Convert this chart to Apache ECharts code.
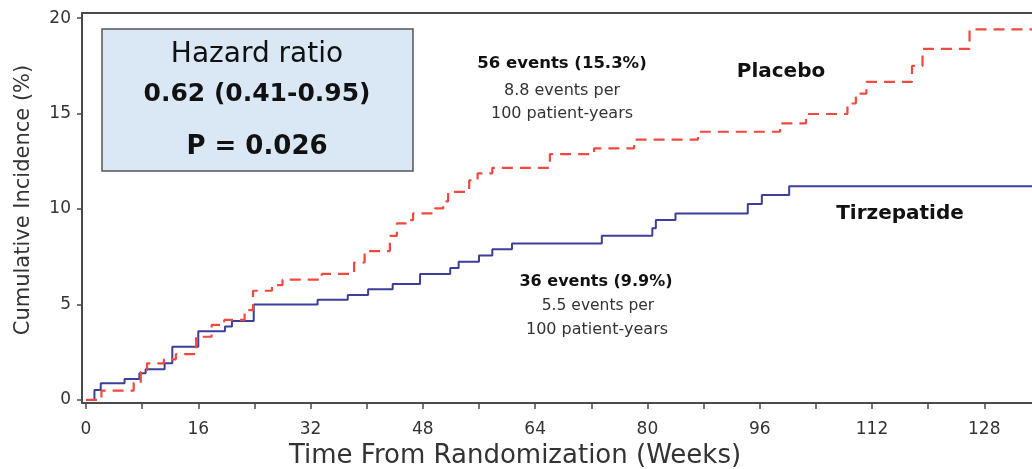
<!DOCTYPE html>
<html>
<head>
<meta charset="utf-8">
<script src="https://cdn.jsdelivr.net/npm/echarts/dist/echarts.min.js"></script>
<style>
html,body{margin:0;padding:0;background:#fff;}
#chart{width:1032px;height:469px;}
</style>
</head>
<body>
<div id="chart"></div>
<script>
// Tirzepatide (solid blue) Kaplan-Meier step points: week of change, cumulative incidence (%)
const weeksTirz = [0, 1.2, 2.1, 5.5, 7.6, 8.5, 11.2, 12.3, 16.0, 19.8, 20.8, 23.9, 33.0, 37.3, 40.2, 43.7, 47.6, 51.9, 53.1, 56.0, 57.9, 60.7, 73.5, 80.7, 81.2, 84.0, 94.3, 96.3, 100.2, 134.8];
const incTirz   = [0, 0.52, 0.87, 1.1, 1.4, 1.61, 1.92, 2.79, 3.6, 3.85, 4.14, 5.0, 5.25, 5.5, 5.8, 6.07, 6.6, 6.91, 7.24, 7.57, 7.89, 8.2, 8.6, 9.0, 9.42, 9.77, 10.26, 10.73, 11.2, 11.2];
// Placebo (dashed red)
const weeksPbo = [0, 2.2, 6.8, 7.8, 8.7, 11.1, 12.8, 15.7, 17.9, 19.7, 22.6, 23.8, 26.5, 28.0, 33.6, 38.2, 39.7, 43.3, 44.3, 45.9, 46.6, 49.7, 50.9, 51.6, 54.6, 55.8, 57.9, 66.1, 72.4, 78.1, 87.2, 98.9, 102.6, 108.5, 109.7, 111.2, 117.7, 119.2, 125.9, 134.8];
const incPbo   = [0, 0.49, 0.9, 1.48, 1.92, 2.13, 2.4, 3.31, 3.93, 4.19, 4.7, 5.72, 6.02, 6.3, 6.6, 7.2, 7.8, 8.6, 9.25, 9.42, 9.77, 10.04, 10.4, 10.9, 11.5, 11.87, 12.16, 12.88, 13.18, 13.64, 14.05, 14.49, 14.98, 15.53, 16.05, 16.66, 17.5, 18.39, 19.41, 19.41];

const xTickValues  = [0, 8, 16, 24, 32, 40, 48, 56, 64, 72, 80, 88, 96, 104, 112, 120, 128];
const xLabelValues = [0, 16, 32, 48, 64, 80, 96, 112, 128];
const yTickValues  = [0, 5, 10, 15, 20];

const FONT = 'DejaVu Sans';
const AXIS = '#4a4a4a';

const chart = echarts.init(document.getElementById('chart'), null, {renderer: 'canvas'});
const pairs = (xs, ys) => xs.map((x, i) => [x, ys[i]]);

chart.setOption({
  animation: false,
  backgroundColor: '#ffffff',
  grid: {left: 82, right: 0, top: 13, bottom: 66, containLabel: false, outerBoundsMode: 'none'},
  xAxis: [{
    type: 'value', min: -0.57, max: 134.8, position: 'bottom',
    axisLine: {show: true, onZero: false, lineStyle: {color: AXIS, width: 2}},
    axisTick: {show: true, length: 6, customValues: xTickValues, lineStyle: {color: AXIS, width: 1.5}},
    axisLabel: {customValues: xLabelValues, fontFamily: FONT, fontSize: 17, color: '#333', margin: 18},
    splitLine: {show: false},
    name: 'Time From Randomization (Weeks)', nameLocation: 'middle', nameGap: 39,
    nameTextStyle: {fontFamily: FONT, fontSize: 26, color: '#333', padding: [0, 84, 0, 0]}
  }, {
    type: 'value', min: -0.57, max: 134.8, position: 'top',
    axisLine: {show: true, onZero: false, lineStyle: {color: AXIS, width: 2}},
    axisTick: {show: false}, axisLabel: {show: false}, splitLine: {show: false}
  }],
  yAxis: {
    type: 'value', min: -0.16, max: 20.27,
    axisLine: {show: true, onZero: false, lineStyle: {color: AXIS, width: 2}},
    axisTick: {show: true, length: 5, customValues: yTickValues, lineStyle: {color: AXIS, width: 1.5}},
    axisLabel: {customValues: yTickValues, fontFamily: FONT, fontSize: 17, color: '#333', margin: 11},
    splitLine: {show: false},
    name: 'Cumulative Incidence (%)', nameLocation: 'middle', nameGap: 48,
    nameTextStyle: {fontFamily: FONT, fontSize: 21, color: '#333', padding: [0, 0, 0, 16]}
  },
  series: [{
    name: 'Tirzepatide', type: 'line', step: 'end', xAxisIndex: 0,
    data: pairs(weeksTirz, incTirz), symbol: 'none', showSymbol: false,
    lineStyle: {color: '#3b3f99', width: 2}
  }, {
    name: 'Placebo', type: 'line', step: 'end', xAxisIndex: 0,
    data: pairs(weeksPbo, incPbo), symbol: 'none', showSymbol: false,
    lineStyle: {color: '#f2483f', width: 2.2, type: [11, 7], cap: 'butt'}
  }],
  graphic: [
    {type: 'rect', shape: {x: 102, y: 29, width: 311, height: 142},
     style: {fill: '#dae8f6', stroke: '#555', lineWidth: 1.5}, z: 10},
    {type: 'text', x: 257, y: 55, z: 11, style: {text: 'Hazard ratio', font: 'normal 28px "DejaVu Sans"', fill: '#111', textAlign: 'center', textVerticalAlign: 'middle'}},
    {type: 'text', x: 257, y: 94, z: 11, style: {text: '0.62 (0.41-0.95)', font: 'bold 25px "DejaVu Sans"', fill: '#111', textAlign: 'center', textVerticalAlign: 'middle'}},
    {type: 'text', x: 257, y: 147, z: 11, style: {text: 'P = 0.026', font: 'bold 26px "DejaVu Sans"', fill: '#111', textAlign: 'center', textVerticalAlign: 'middle'}},
    {type: 'text', x: 562, y: 64, z: 11, style: {text: '56 events (15.3%)', font: 'bold 16.5px "DejaVu Sans"', fill: '#111', textAlign: 'center', textVerticalAlign: 'middle'}},
    {type: 'text', x: 562, y: 91, z: 11, style: {text: '8.8 events per', font: 'normal 16px "DejaVu Sans"', fill: '#333', textAlign: 'center', textVerticalAlign: 'middle'}},
    {type: 'text', x: 562, y: 114, z: 11, style: {text: '100 patient-years', font: 'normal 16px "DejaVu Sans"', fill: '#333', textAlign: 'center', textVerticalAlign: 'middle'}},
    {type: 'text', x: 781, y: 72, z: 11, style: {text: 'Placebo', font: 'bold 20px "DejaVu Sans"', fill: '#111', textAlign: 'center', textVerticalAlign: 'middle'}},
    {type: 'text', x: 900, y: 214, z: 11, style: {text: 'Tirzepatide', font: 'bold 20px "DejaVu Sans"', fill: '#111', textAlign: 'center', textVerticalAlign: 'middle'}},
    {type: 'text', x: 596, y: 282, z: 11, style: {text: '36 events (9.9%)', font: 'bold 16px "DejaVu Sans"', fill: '#111', textAlign: 'center', textVerticalAlign: 'middle'}},
    {type: 'text', x: 598, y: 306, z: 11, style: {text: '5.5 events per', font: 'normal 15.5px "DejaVu Sans"', fill: '#333', textAlign: 'center', textVerticalAlign: 'middle'}},
    {type: 'text', x: 597, y: 330, z: 11, style: {text: '100 patient-years', font: 'normal 16px "DejaVu Sans"', fill: '#333', textAlign: 'center', textVerticalAlign: 'middle'}}
  ]
});
</script>
</body>
</html>
